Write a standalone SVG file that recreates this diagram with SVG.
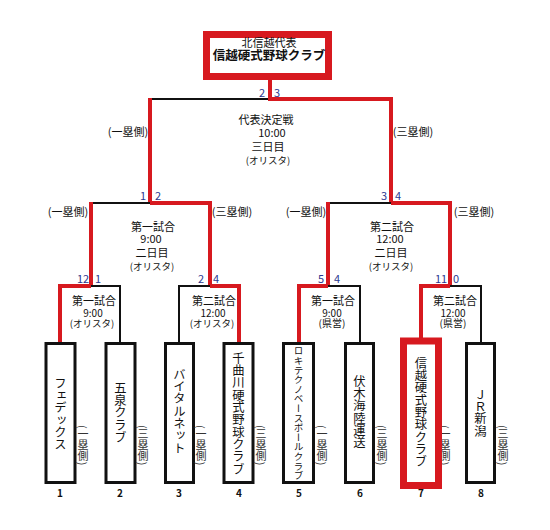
<svg xmlns="http://www.w3.org/2000/svg" width="550" height="530" viewBox="0 0 550 530">
<style>
text{font-family:"Noto Sans CJK JP","Noto Sans",sans-serif;fill:#111}
.m{font-size:11px;text-anchor:middle}
.t{font-size:10px;text-anchor:middle}
.s{font-size:9.5px;text-anchor:middle}
.n{font-size:11px;fill:#2B3990;text-anchor:middle}
.side{font-size:11px;text-anchor:middle}
.v{font-size:12.3px;writing-mode:vertical-rl;text-orientation:mixed}
.vs{font-size:11px;writing-mode:vertical-rl;text-orientation:mixed;fill:#333}
.no{font-size:10px;text-anchor:middle;font-weight:bold}
.k{stroke:#111;stroke-width:2;fill:none}
.r{stroke:#D7191F;stroke-width:4;fill:none}
.box{fill:#fff;stroke:#111;stroke-width:3}
.rbox{fill:#fff;stroke:#D7191F;stroke-width:7}
</style>
<rect width="550" height="530" fill="#fff"/>
<g id="connectors">
<path class="k" d="M150 99 H270"/>
<path class="r" d="M270 79 V99 H391 V203"/>
<path class="r" d="M150 98 V203"/>
<path class="k" d="M91 203 H150"/>
<path class="r" d="M150 203 H210 V286"/>
<path class="r" d="M91 202 V286"/>
<path class="k" d="M328 203 H391"/>
<path class="r" d="M391 203 H450 V286"/>
<path class="r" d="M328 202 V286"/>
<path class="r" d="M91 286 H60 V343"/>
<path class="k" d="M91 286 H120 V343"/>
<path class="k" d="M210 286 H179 V343"/>
<path class="r" d="M210 286 H239 V343"/>
<path class="r" d="M328 286 H299 V343"/>
<path class="k" d="M328 286 H360 V343"/>
<path class="r" d="M450 286 H421 V338"/>
<path class="k" d="M450 286 H481 V343"/>
</g>
<g id="champion">
<rect class="rbox" x="206.5" y="34.5" width="122" height="42"/>
<text class="m" x="269" y="47">北信越代表</text>
<text class="m" x="269" y="60" style="font-size:12.5px;font-weight:bold">信越硬式野球クラブ</text>
</g>
<g id="scores">
<text class="n" x="262" y="97">2</text><text class="n" x="277" y="97">3</text>
<text class="n" x="143" y="200">1</text><text class="n" x="158" y="200">2</text>
<text class="n" x="384" y="200">3</text><text class="n" x="398" y="200">4</text>
<text class="n" x="83" y="283">12</text><text class="n" x="98" y="283">1</text>
<text class="n" x="201" y="283">2</text><text class="n" x="216" y="283">4</text>
<text class="n" x="321" y="283">5</text><text class="n" x="337" y="283">4</text>
<text class="n" x="441" y="283">11</text><text class="n" x="456" y="283">0</text>
</g>
<g id="side-labels">
<text class="side" x="128" y="136">(一塁側)</text>
<text class="side" x="413" y="136">(三塁側)</text>
<text class="side" x="68" y="216">(一塁側)</text>
<text class="side" x="232" y="216">(三塁側)</text>
<text class="side" x="306" y="216">(一塁側)</text>
<text class="side" x="474" y="216">(三塁側)</text>
</g>
<g id="match-final">
<text class="m" x="266" y="124">代表決定戦</text>
<text class="m" x="272" y="136.5">10:00</text>
<text class="m" x="268" y="151">三日目</text>
<text class="s" x="268" y="164">(オリスタ)</text>
</g>
<g id="match-semi1">
<text class="m" x="153" y="231">第一試合</text>
<text class="m" x="151" y="242.5">9:00</text>
<text class="m" x="152" y="257">二日目</text>
<text class="s" x="152" y="270">(オリスタ)</text>
</g>
<g id="match-semi2">
<text class="m" x="392" y="231">第二試合</text>
<text class="m" x="390" y="242.5">12:00</text>
<text class="m" x="391" y="257">二日目</text>
<text class="s" x="391" y="270">(オリスタ)</text>
</g>
<g id="match-r1-1">
<text class="m" x="94" y="304.5">第一試合</text>
<text class="t" x="93" y="316.5">9:00</text>
<text class="s" x="92" y="327">(オリスタ)</text>
</g>
<g id="match-r1-2">
<text class="m" x="214" y="304.5">第二試合</text>
<text class="t" x="213" y="316.5">12:00</text>
<text class="s" x="212" y="327">(オリスタ)</text>
</g>
<g id="match-r1-3">
<text class="m" x="333" y="304.5">第一試合</text>
<text class="t" x="332" y="316.5">9:00</text>
<text class="t" x="332" y="327">(県営)</text>
</g>
<g id="match-r1-4">
<text class="m" x="455" y="304.5">第二試合</text>
<text class="t" x="453" y="316.5">12:00</text>
<text class="t" x="453" y="327">(県営)</text>
</g>
<g id="team1">
<rect class="box" x="46" y="343.5" width="29" height="139"/>
<text class="v" x="60.5" y="377">フェデックス</text>
<text class="vs" x="83" y="425">(一塁側)</text>
<text class="no" x="60" y="497">1</text>
</g>
<g id="team2">
<rect class="box" x="106" y="343.5" width="29" height="139"/>
<text class="v" x="120.5" y="382">五泉クラブ</text>
<text class="vs" x="143" y="425">(三塁側)</text>
<text class="no" x="120" y="497">2</text>
</g>
<g id="team3">
<rect class="box" x="165.5" y="343.5" width="28" height="139"/>
<text class="v" x="179.5" y="368">バイタルネット</text>
<text class="vs" x="201" y="425">(一塁側)</text>
<text class="no" x="179" y="497">3</text>
</g>
<g id="team4">
<rect class="box" x="224" y="343.5" width="29" height="139"/>
<text class="v" x="238.5" y="352">千曲川硬式野球クラブ</text>
<text class="vs" x="261" y="425">(三塁側)</text>
<text class="no" x="239" y="497">4</text>
</g>
<g id="team5">
<rect class="box" x="283.5" y="343.5" width="30" height="139"/>
<text class="v" x="298.5" y="346" style="font-size:9.6px">ロキテクノベースボールクラブ</text>
<text class="vs" x="322" y="425">(一塁側)</text>
<text class="no" x="299" y="497">5</text>
</g>
<g id="team6">
<rect class="box" x="345.5" y="343.5" width="28" height="139"/>
<text class="v" x="359.5" y="375">伏木海陸運送</text>
<text class="vs" x="382" y="425">(三塁側)</text>
<text class="no" x="360" y="497">6</text>
</g>
<g id="team7">
<text class="vs" x="445" y="425">(一塁側)</text>
<rect class="rbox" x="403.5" y="341" width="35" height="144.5"/>
<text class="v" x="421" y="357">信越硬式野球クラブ</text>
<text class="no" x="421" y="497">7</text>
</g>
<g id="team8">
<rect class="box" x="466.5" y="343.5" width="28" height="139"/>
<text class="v" x="480.5" y="388">ＪＲ新潟</text>
<text class="vs" x="503" y="425">(三塁側)</text>
<text class="no" x="481" y="497">8</text>
</g>
</svg>
